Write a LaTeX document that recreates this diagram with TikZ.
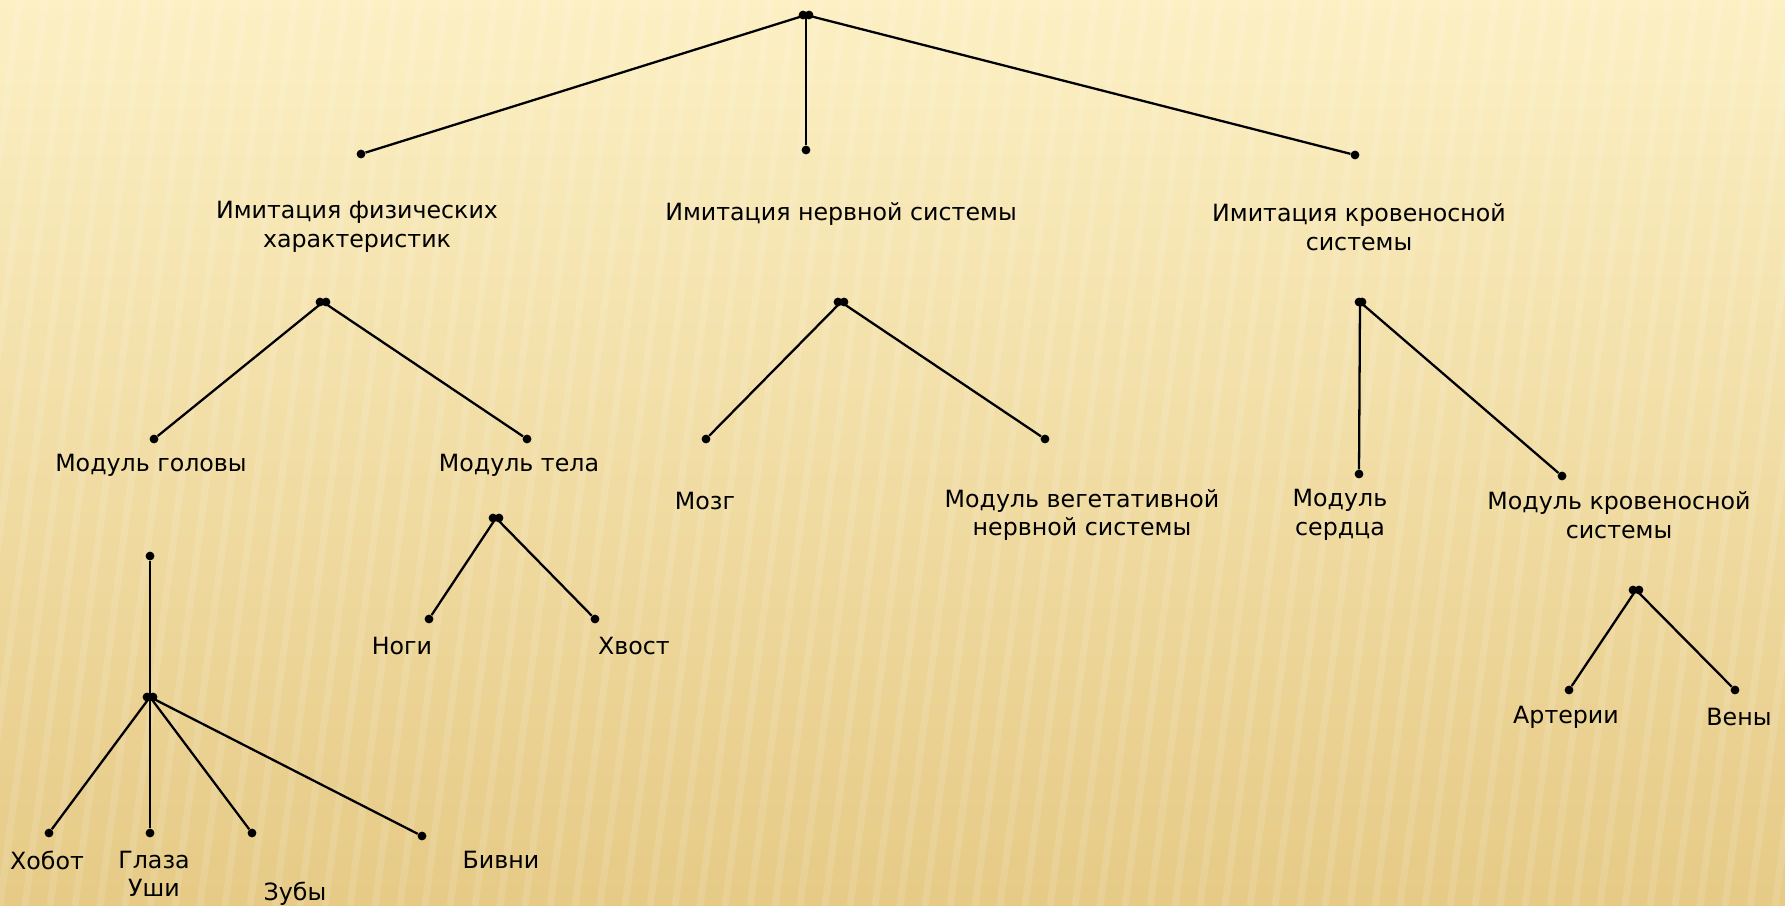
\documentclass[tikz,border=0pt]{standalone}
\usepackage{fontspec}
\setmainfont{DejaVu Sans}
\definecolor{bgtop}{HTML}{FCF0C4}
\definecolor{bgbot}{HTML}{E6CA86}
\begin{document}
\begin{tikzpicture}[x=0.02cm,y=-0.02cm]

\tikzstyle{conn}=[line width=1.3pt];
\tikzstyle{dot}=[circle,fill,inner sep=0pt,minimum size=5pt];
\tikzstyle{lbl}=[font=\fontsize{13.5}{16.2}\selectfont,align=center];

\useasboundingbox (0,0) rectangle (1785,906);
\shade[top color=bgtop,bottom color=bgbot] (0,0) rectangle (1785,906);
\begin{scope}
\clip (0,0) rectangle (1785,906);
\foreach \i in {-200,-175,...,1800}
  \draw[white,opacity=0.12,line width=4pt] (\i,906) -- (\i+120,0);
\end{scope}

% root
\coordinate (v0) at (806,15);
\node[dot] (v0a) at (803,15) {};
\node[dot] (v0b) at (809,15) {};
\node[dot] (v1) at (361,154) {};
\node[dot] (v2) at (806,150) {};
\node[dot] (v3) at (1355,155) {};
\draw[conn] (v0) -- (v1);
\draw[conn] (v0) -- (v2);
\draw[conn] (v0) -- (v3);
\node[lbl] (v1t) at (357,227) {Имитация физических\\характеристик};
\node[lbl] (v2t) at (841,214) {Имитация нервной системы};
\node[lbl] (v3t) at (1359,227) {Имитация кровеносной\\системы};

% physical
\coordinate (h1) at (323,302);
\node[dot] (h1a) at (320,302) {};
\node[dot] (h1b) at (326,302) {};
\node[dot] (v11) at (154,439) {};
\node[dot] (v12) at (527,439) {};
\draw[conn] (h1) -- (v11);
\draw[conn] (h1) -- (v12);
\node[lbl] (v11t) at (151,465) {Модуль головы};
\node[lbl] (v12t) at (519,465) {Модуль тела};

% nervous
\coordinate (h2) at (841,302);
\node[dot] (h2a) at (838,302) {};
\node[dot] (h2b) at (844,302) {};
\node[dot] (v21) at (706,439) {};
\node[dot] (v22) at (1045,439) {};
\draw[conn] (h2) -- (v21);
\draw[conn] (h2) -- (v22);
\node[lbl] (v21t) at (705,501) {Мозг};
\node[lbl] (v22t) at (1082,515) {Модуль вегетативной\\нервной системы};

% blood
\coordinate (h3) at (1360,302);
\node[dot] (h3a) at (1359,302) {};
\node[dot] (h3b) at (1362,302) {};
\node[dot] (v31) at (1359,474) {};
\node[dot] (v32) at (1562,476) {};
\draw[conn] (h3) -- (v31);
\draw[conn] (h3) -- (v32);
\node[lbl] (v31t) at (1340,515) {Модуль\\сердца};
\node[lbl] (v32t) at (1619,515) {Модуль кровеносной\\системы};

% head
\node[dot] (v111) at (150,556) {};
\coordinate (h4) at (150,697);
\node[dot] (h4a) at (147,697) {};
\node[dot] (h4b) at (153,697) {};
\draw[conn] (v111) -- (h4);
\node[dot] (v112) at (49,833) {};
\node[dot] (v113) at (150,833) {};
\node[dot] (v114) at (252,833) {};
\node[dot] (v115) at (422,836) {};
\draw[conn] (h4) -- (v112);
\draw[conn] (h4) -- (v113);
\draw[conn] (h4) -- (v114);
\draw[conn] (h4) -- (v115);
\node[lbl] (v112t) at (47,860) {Хобот};
\node[lbl] (v113t) at (154,874) {Глаза\\Уши};
\node[lbl] (v114t) at (295,894) {Зубы};
\node[lbl] (v115t) at (501,860) {Бивни};

% body
\coordinate (h5) at (496,518);
\node[dot] (h5a) at (493,518) {};
\node[dot] (h5b) at (499,518) {};
\node[dot] (v121) at (429,619) {};
\node[dot] (v122) at (595,619) {};
\draw[conn] (h5) -- (v121);
\draw[conn] (h5) -- (v122);
\node[lbl] (v121t) at (402,646) {Ноги};
\node[lbl] (v122t) at (634,646) {Хвост};

% vessels
\coordinate (h6) at (1636,590);
\node[dot] (h6a) at (1633,590) {};
\node[dot] (h6b) at (1639,590) {};
\node[dot] (v321) at (1569,690) {};
\node[dot] (v322) at (1735,690) {};
\draw[conn] (h6) -- (v321);
\draw[conn] (h6) -- (v322);
\node[lbl] (v321t) at (1566,717) {Артерии};
\node[lbl] (v322t) at (1739,717) {Вены};
\end{tikzpicture}
\end{document}
